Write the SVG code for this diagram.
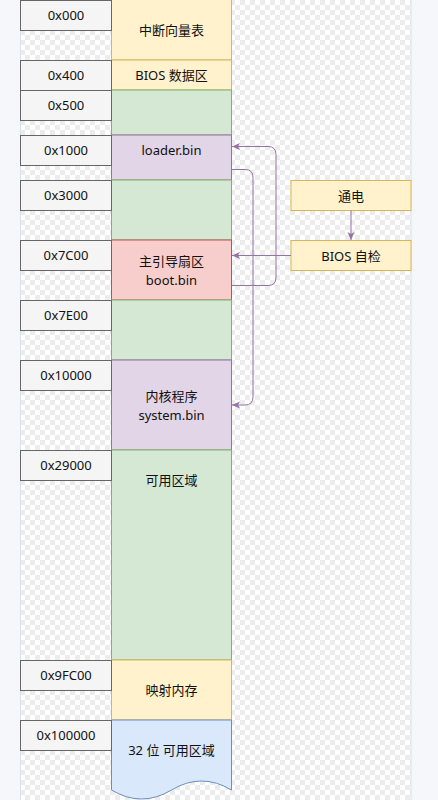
<svg xmlns="http://www.w3.org/2000/svg" width="438" height="800" viewBox="0 0 438 800">
<defs>
  <pattern id="checker" x="0" y="0" width="10" height="10" patternUnits="userSpaceOnUse">
    <rect width="10" height="10" fill="#ffffff"/>
    <rect width="5" height="5" fill="#ececec"/>
    <rect x="5" y="5" width="5" height="5" fill="#ececec"/>
  </pattern>
  <marker id="arr" markerUnits="userSpaceOnUse" markerWidth="9" markerHeight="8" refX="8" refY="3.5" orient="auto">
    <path d="M0,0 L8,3.5 L0,7 L2,3.5 Z" fill="#9673a6"/>
  </marker>
</defs>
<style>
  text { font-family: "Noto Sans", "Noto Sans CJK SC", sans-serif; font-size: 13px; fill: #111111; text-anchor: middle; dominant-baseline: central; }
  .addr { fill: #f5f5f5; stroke: #666666; stroke-width: 1; }
  .yel { fill: #fff2cc; stroke: #d6b656; stroke-width: 1; }
  .grn { fill: #d5e8d4; stroke: #82b366; stroke-width: 1; }
  .pur { fill: #e1d5e7; stroke: #9673a6; stroke-width: 1; }
  .red { fill: #f8cecc; stroke: #b85450; stroke-width: 1; }
  .blu { fill: #dae8fc; stroke: #6c8ebf; stroke-width: 1; }
  .edge { fill: none; stroke: #9673a6; stroke-width: 1; marker-end: url(#arr); }
</style>
<rect width="438" height="800" fill="#f5f7fa"/>
<rect x="20.5" y="-1" width="390.5" height="802" fill="url(#checker)" stroke="#d9e1ea" stroke-width="1"/>

<g id="mem-ivt"><rect class="yel" x="111.5" y="-0.5" width="120" height="60.5"/><text x="171.5" y="30">中断向量表</text></g>
<g id="mem-bios"><rect class="yel" x="111.5" y="60" width="120" height="30"/><text x="171.5" y="75">BIOS 数据区</text></g>
<g id="mem-free1"><rect class="grn" x="111.5" y="90" width="120" height="45"/></g>
<g id="mem-loader"><rect class="pur" x="111.5" y="135" width="120" height="45"/><text x="171.5" y="150">loader.bin</text></g>
<g id="mem-free2"><rect class="grn" x="111.5" y="180" width="120" height="60"/></g>
<g id="mem-boot"><rect class="red" x="111.5" y="240" width="120" height="60"/><text x="171.5" y="260.5">主引导扇区</text><text x="171.5" y="279.5">boot.bin</text></g>
<g id="mem-free3"><rect class="grn" x="111.5" y="300" width="120" height="60"/></g>
<g id="mem-system"><rect class="pur" x="111.5" y="360" width="120" height="90"/><text x="171.5" y="395.5">内核程序</text><text x="171.5" y="414.5">system.bin</text></g>
<g id="mem-free4"><rect class="grn" x="111.5" y="450" width="120" height="210"/><text x="171.5" y="480">可用区域</text></g>
<g id="mem-map"><rect class="yel" x="111.5" y="660" width="120" height="60"/><text x="171.5" y="690">映射内存</text></g>
<g id="mem-32"><path class="blu" d="M111.5,720 H231.5 V790 Q201.5,772 171.5,790 Q141.5,808 111.5,790 Z"/><text x="171.5" y="750">32 位 可用区域</text></g>

<g id="addr-000"><rect class="addr" x="20.5" y="0.5" width="91" height="30"/><text x="66" y="15">0x000</text></g>
<g id="addr-400"><rect class="addr" x="20.5" y="60.5" width="91" height="30"/><text x="66" y="75">0x400</text></g>
<g id="addr-500"><rect class="addr" x="20.5" y="90.5" width="91" height="30"/><text x="66" y="105">0x500</text></g>
<g id="addr-1000"><rect class="addr" x="20.5" y="135.5" width="91" height="30"/><text x="66" y="150">0x1000</text></g>
<g id="addr-3000"><rect class="addr" x="20.5" y="180.5" width="91" height="30"/><text x="66" y="195">0x3000</text></g>
<g id="addr-7C00"><rect class="addr" x="20.5" y="240.5" width="91" height="30"/><text x="66" y="255">0x7C00</text></g>
<g id="addr-7E00"><rect class="addr" x="20.5" y="300.5" width="91" height="30"/><text x="66" y="315">0x7E00</text></g>
<g id="addr-10000"><rect class="addr" x="20.5" y="360.5" width="91" height="30"/><text x="66" y="375">0x10000</text></g>
<g id="addr-29000"><rect class="addr" x="20.5" y="450.5" width="91" height="30"/><text x="66" y="465">0x29000</text></g>
<g id="addr-9FC00"><rect class="addr" x="20.5" y="660.5" width="91" height="30"/><text x="66" y="675">0x9FC00</text></g>
<g id="addr-100000"><rect class="addr" x="20.5" y="720.5" width="91" height="30"/><text x="66" y="735">0x100000</text></g>

<g id="power"><rect class="yel" x="291" y="180.5" width="120" height="30"/><text x="351" y="195.5">通电</text></g>
<g id="post"><rect class="yel" x="291" y="240.5" width="120" height="30"/><text x="351" y="255.5">BIOS 自检</text></g>

<g id="connectors">
  <path class="edge" d="M351,210.5 V240"/>
  <path class="edge" d="M291,255.5 H232"/>
  <path class="edge" d="M231.5,285.5 H268 Q276,285.5 276,277.5 V154.5 Q276,146.5 268,146.5 H232"/>
  <path class="edge" d="M231.5,169.5 H245 Q253,169.5 253,177.5 V397 Q253,405 245,405 H232"/>
</g>
</svg>
